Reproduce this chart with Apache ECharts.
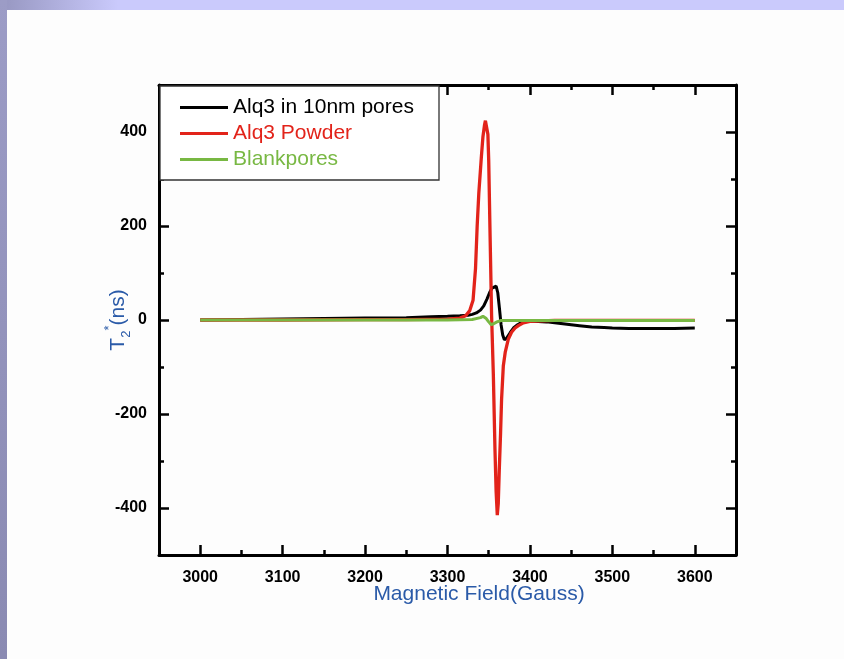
<!DOCTYPE html>
<html><head><meta charset="utf-8">
<script src="https://cdn.jsdelivr.net/npm/echarts@6/dist/echarts.min.js"></script>
<style>html,body{margin:0;padding:0;background:#fdfdfd}#c{width:844px;height:659px}</style>
</head><body><div id="c"></div>
<script>
// ---- data ----
const seriesNames = ['Alq3 in 10nm pores', 'Alq3 Powder', 'Blankpores'];

const poresX = [3000,3050,3100,3150,3200,3250,3280,3300,3315,3325,3330,3335,3340,3344,3348,3351,3354,3356,3359,3361,3363,3365,3367,3369,3372,3376,3380,3385,3390,3400,3410,3420,3430,3440,3450,3460,3475,3490,3500,3520,3550,3575,3600];
const poresY = [0,1,2,3,4,5,7,8,9,10,12,15,21,30,45,58,68,72,72,58,25,-10,-32,-42,-38,-27,-17,-10,-5,-2,-3,-4,-6,-8,-10,-12,-15,-16,-17,-18,-18,-18,-17];

const powderX = [3000,3100,3200,3250,3300,3315,3322,3327,3331,3334,3336,3338,3341,3343,3345,3346,3347,3348,3349,3350,3351.5,3353.5,3355.6,3357.6,3359,3360.4,3361.6,3362.8,3364.4,3365.6,3367.7,3370,3373.7,3377.7,3382,3386,3392,3400,3430,3500,3600];
const powderY = [0,0,1,1,2,4,9,20,42,110,200,270,345,390,416,424,426,420,395,340,195,9,-115,-276,-365,-415,-390,-320,-240,-169,-98,-69,-41,-26,-17,-12,-6,-3,-1,-1,-1];

const blankX = [3000,3100,3200,3300,3330,3340,3343,3347,3350,3353,3356,3360,3365,3375,3400,3500,3600];
const blankY = [0,0,0,0,1,5,8,3,-4,-10,-8,-4,-1,-1,-1,-1,-1];

const xMajorTicks = [3000,3100,3200,3300,3400,3500,3600];
const xMinorTicks = [3050,3150,3250,3350,3450,3550];
const yMajorTicks = [-400,-200,0,200,400];
const yMinorTicks = [-300,-100,100,300];

const colors = ['#000000', '#e2231a', '#78b843'];
const nameBlue = '#2a5aa8';
const FONT = 'Liberation Sans, Arial, sans-serif';

function zip(xs, ys) { return xs.map((x, i) => [x, ys[i]]); }

function axis(kind, position, ticks, major, withLine, withLabels) {
  return {
    type: 'value',
    position: position,
    min: kind === 'x' ? 2950 : -500,
    max: kind === 'x' ? 3650 : 500,
    splitLine: { show: false },
    axisLine: { show: withLine, onZero: false, lineStyle: { color: '#000', width: 3 } },
    axisTick: { show: true, inside: true, length: major ? 10 : 5, customValues: ticks,
      lineStyle: { color: '#000', width: 2.5 } },
    axisLabel: { show: withLabels, customValues: ticks, color: '#000', fontWeight: 'bold',
      fontSize: 16, fontFamily: FONT, margin: kind === 'x' ? 15 : 12, formatter: v => String(v) }
  };
}

const xMain = axis('x', 'bottom', xMajorTicks, true, true, true);
xMain.name = 'Magnetic Field(Gauss)';
xMain.nameLocation = 'middle';
xMain.nameGap = 29;
xMain.nameMoveOverlap = false;
xMain.nameTextStyle = { color: nameBlue, fontSize: 21, fontFamily: FONT, padding: [0, 0, 0, 63] };

const yMain = axis('y', 'left', yMajorTicks, true, true, true);
yMain.name = '{t|T}{sub|2}{sup|*}{t|(ns)}';
yMain.nameLocation = 'middle';
yMain.nameGap = 26;
yMain.nameMoveOverlap = false;
yMain.nameTextStyle = {
  color: nameBlue, fontFamily: FONT, fontSize: 21, lineHeight: 30,
  rich: {
    t: { color: nameBlue, fontFamily: FONT, fontSize: 21, lineHeight: 30 },
    sub: { color: nameBlue, fontFamily: FONT, fontSize: 13, verticalAlign: 'bottom', lineHeight: 30 },
    sup: { color: nameBlue, fontFamily: FONT, fontSize: 13, verticalAlign: 'top', lineHeight: 30 }
  }
};

const option = {
  animation: false,
  backgroundColor: '#fdfdfd',
  grid: { left: 159, top: 85, right: 108, bottom: 104, containLabel: false },
  xAxis: [
    xMain,
    axis('x', 'bottom', xMinorTicks, false, false, false),
    axis('x', 'top', xMajorTicks, true, true, false),
    axis('x', 'top', xMinorTicks, false, false, false)
  ],
  yAxis: [
    yMain,
    axis('y', 'left', yMinorTicks, false, false, false),
    axis('y', 'right', yMajorTicks, true, true, false),
    axis('y', 'right', yMinorTicks, false, false, false)
  ],
  legend: {
    orient: 'vertical', left: 180, top: 97, itemWidth: 48, itemHeight: 3, itemGap: 5,
    icon: 'rect', padding: 0, z: 10,
    textStyle: { fontSize: 21, fontFamily: FONT, lineHeight: 21 },
    data: seriesNames.map((n, i) => ({ name: n, textStyle: { color: colors[i] } }))
  },
  graphic: [
    { type: 'rect', shape: { x: 0, y: 0, width: 844, height: 10 }, silent: true, z: 0,
      style: { fill: new echarts.graphic.LinearGradient(0, 0, 1, 0, [
        { offset: 0, color: '#9696c0' }, { offset: 0.14, color: '#cacafc' }, { offset: 1, color: '#cacafc' }]) } },
    { type: 'rect', shape: { x: 0, y: 0, width: 7, height: 659 }, silent: true, z: 0,
      style: { fill: new echarts.graphic.LinearGradient(0, 0, 0, 1, [
        { offset: 0, color: '#9c9cc6' }, { offset: 1, color: '#8a8ab2' }]) } },
    { type: 'rect', shape: { x: 160, y: 86, width: 279, height: 94 }, silent: true, z: 5,
      style: { fill: '#ffffff', stroke: '#333333', lineWidth: 1.3 } }
  ],
  series: [
    { name: seriesNames[0], type: 'line', data: zip(poresX, poresY), showSymbol: false,
      lineStyle: { color: colors[0], width: 3 }, itemStyle: { color: colors[0] }, z: 2 },
    { name: seriesNames[1], type: 'line', data: zip(powderX, powderY), showSymbol: false,
      lineStyle: { color: colors[1], width: 3.3 }, itemStyle: { color: colors[1] }, z: 3 },
    { name: seriesNames[2], type: 'line', data: zip(blankX, blankY), showSymbol: false,
      lineStyle: { color: colors[2], width: 3 }, itemStyle: { color: colors[2] }, z: 4 }
  ]
};

const chart = echarts.init(document.getElementById('c'), null, { renderer: 'canvas' });
chart.setOption(option);
</script>
</body></html>
